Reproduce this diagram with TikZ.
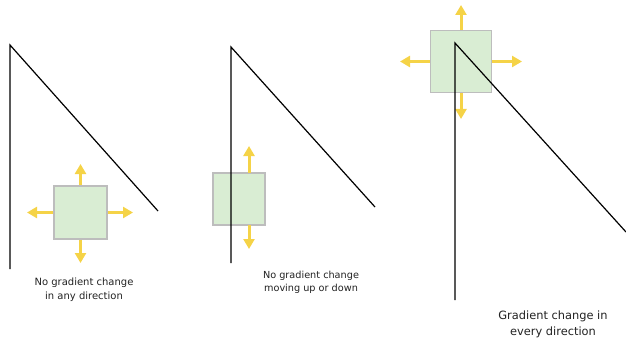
\documentclass[tikz,border=0pt]{standalone}
\usepackage{fontspec}
\setmainfont{DejaVu Sans}
\usetikzlibrary{arrows.meta}
\definecolor{boxfill}{HTML}{D9EDD3}
\definecolor{boxdraw}{HTML}{BDBDBD}
\definecolor{arrowyellow}{HTML}{F5D347}
\definecolor{txt}{HTML}{222222}
\tikzset{
  sqbox/.style={draw=boxdraw, line width=1.3pt, fill=boxfill, minimum width=#1, minimum height=#1, inner sep=0pt},
  yarrow/.style={draw=arrowyellow, line width=3pt, -{Triangle[width=11pt,length=10pt]}},
  edge/.style={draw=black, line width=1.2pt},
  caption/.style={text=txt, align=center, inner sep=0pt},
}
\begin{document}
\begin{tikzpicture}[x=1pt,y=-1pt]
\useasboundingbox (0,0) rectangle (626,342);
% ---------- panel 1
\node[sqbox=53pt] (b1) at (80.5,212.5) {};
\coordinate (b1u) at (80.5,164);
\coordinate (b1l) at (27,212.5);
\coordinate (b1r) at (133,212.5);
\coordinate (b1d) at (80.5,263);
\draw[yarrow] (b1.north) -- (b1u);
\draw[yarrow] (b1.west) -- (b1l);
\draw[yarrow] (b1.east) -- (b1r);
\draw[yarrow] (b1.south) -- (b1d);
\coordinate (t1) at (10,45);
\coordinate (v1) at (10,269);
\coordinate (d1) at (158,211);
\draw[edge] (v1) -- (t1) -- (d1);
\node[caption, font=\fontsize{10}{14}\selectfont] (c1) at (84,289.5) {No gradient change\\in any direction};
% ---------- panel 2
\node[sqbox=52pt] (b2) at (239,199) {};
\coordinate (b2a) at (249,173);
\coordinate (b2b) at (249,225);
\coordinate (b2u) at (249,146);
\coordinate (b2d) at (249,249);
\draw[yarrow] (b2a) -- (b2u);
\draw[yarrow] (b2b) -- (b2d);
\coordinate (t2) at (231,47);
\coordinate (v2) at (231,263);
\coordinate (d2) at (375,207);
\draw[edge] (v2) -- (t2) -- (d2);
\node[caption, font=\fontsize{9.7}{13}\selectfont] (c2) at (311,282.5) {No gradient change\\moving up or down};
% ---------- panel 3
\node[sqbox=61.5pt] (b3) at (461,61.5) {};
\coordinate (b3u) at (461,5);
\coordinate (b3l) at (400,61.5);
\coordinate (b3r) at (522,61.5);
\coordinate (b3d) at (461,119);
\draw[yarrow] (b3.north) -- (b3u);
\draw[yarrow] (b3.west) -- (b3l);
\draw[yarrow] (b3.east) -- (b3r);
\draw[yarrow] (b3.south) -- (b3d);
\coordinate (t3) at (455,43);
\coordinate (v3) at (455,300);
\coordinate (d3) at (626,232);
\draw[edge] (v3) -- (t3) -- (d3);
\node[caption, font=\fontsize{11.4}{16}\selectfont] (c3) at (553,324) {Gradient change in\\every direction};
\end{tikzpicture}
\end{document}
